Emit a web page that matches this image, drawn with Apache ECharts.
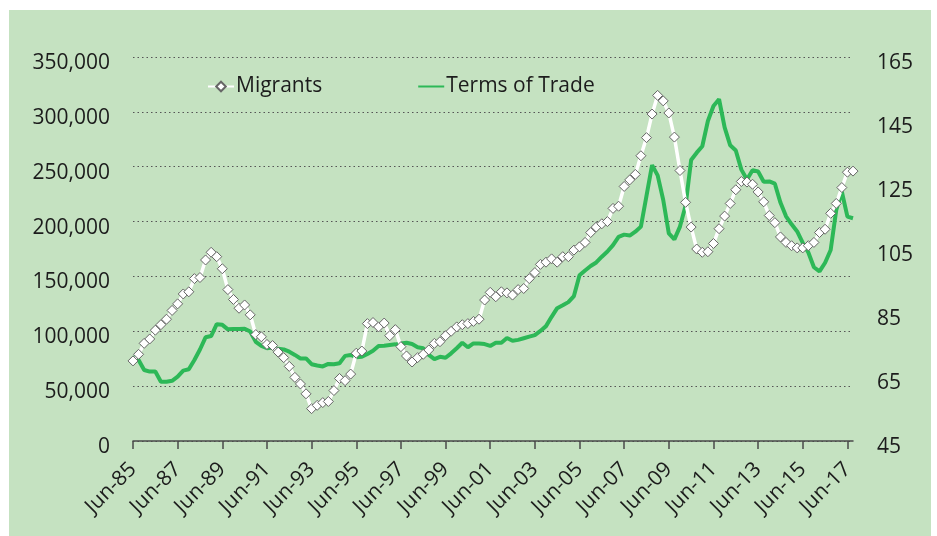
<!DOCTYPE html>
<html>
<head>
<meta charset="utf-8">
<script src="https://cdn.jsdelivr.net/npm/echarts@6/dist/echarts.min.js"></script>
<style>
  html, body { margin: 0; padding: 0; background: #ffffff; }
  #chart { position: absolute; left: 9px; top: 10px; width: 922px; height: 526px; }
</style>
</head>
<body>
<div id="chart"></div>
<script>
// quarterly, Jun-85 .. Sep-17
var quarterMonths = ['Jun', 'Sep', 'Dec', 'Mar'];
var categories = [];
for (var q = 0; q < 130; q++) {
    var yr = 1985 + Math.floor((q + 1) / 4);
    categories.push(quarterMonths[q % 4] + '-' + String(yr).slice(2));
}

// migrants (left axis)
var migrants = [
    73000, 79000, 89000, 93000, 101000, 106000, 111000, 119000, 125000, 134000,
    136000, 148000, 149000, 165000, 172000, 168000, 157000, 138000, 129000, 121000,
    124000, 115000, 97000, 95000, 88000, 87000, 81000, 76000, 68000, 58000,
    52000, 43000, 29500, 32500, 35000, 36000, 46000, 57000, 55000, 61000,
    80000, 82000, 107000, 108000, 104000, 107500, 96000, 101500, 86000, 77500,
    72000, 76000, 79000, 83000, 89000, 90500, 96000, 100000, 104000, 106000,
    107000, 109000, 111000, 128500, 135500, 131500, 136000, 135000, 133000, 138000,
    139000, 148000, 153500, 161000, 163000, 166000, 163000, 168000, 168000, 174000,
    177000, 181000, 190000, 195000, 198000, 200000, 212000, 214000, 232000, 238000,
    243000, 260000, 276500, 298000, 315000, 310000, 299000, 277000, 246500, 217500,
    195000, 175000, 172000, 172500, 180000, 193500, 205000, 216500, 229000, 236500,
    236000, 234000, 227000, 218000, 205500, 199000, 186000, 181000, 178000, 176000,
    176000, 178000, 181000, 190000, 193000, 207500, 216500, 231000, 245000, 246000
];

// terms of trade (right axis)
var termsOfTrade = [
    71.3, 70.3, 67.2, 66.7, 66.7, 63.5, 63.5, 63.8, 65.1, 67.0,
    67.4, 70.3, 73.6, 77.4, 77.8, 81.5, 81.3, 79.9, 80.0, 80.0,
    80.1, 79.2, 76.0, 74.7, 74.0, 74.2, 73.8, 73.6, 72.9, 71.9,
    70.8, 70.8, 69.0, 68.6, 68.3, 69.1, 69.0, 69.3, 71.6, 71.9,
    71.2, 71.3, 72.2, 73.2, 74.7, 74.8, 75.0, 75.2, 75.5, 75.7,
    75.3, 74.3, 74.0, 71.9, 70.6, 71.3, 71.0, 72.4, 74.0, 75.7,
    74.3, 75.5, 75.5, 75.3, 74.7, 75.7, 75.7, 77.2, 76.3, 76.6,
    77.1, 77.6, 78.1, 79.4, 80.9, 83.8, 86.5, 87.4, 88.4, 90.3,
    96.8, 98.3, 99.7, 100.8, 102.6, 104.2, 106.2, 108.8, 109.5, 109.2,
    110.4, 112.0, 121.6, 131.2, 128.0, 120.3, 109.9, 108.0, 112.0, 118.5,
    132.8, 135.1, 137.1, 145.0, 149.7, 151.8, 143.0, 137.4, 135.8, 129.8,
    126.7, 129.6, 129.2, 126.0, 126.1, 125.4, 119.5, 115.2, 112.7, 110.5,
    106.9, 103.9, 99.3, 98.0, 100.7, 104.7, 117.2, 122.9, 115.1, 114.6
];

var rightTicks = [45, 65, 85, 105, 125, 145, 165];

var FONT = '"Open Sans", "Noto Sans", sans-serif';
var TEXT_COLOR = '#1c1c1c';

// y labels sit a little below their grid lines
var lowLabel = { padding: [12, 0, 0, 0], fontSize: 21, color: TEXT_COLOR, fontFamily: FONT };

var chart = echarts.init(document.getElementById('chart'));

chart.setOption({
    backgroundColor: '#c5e2c1',
    animation: false,
    textStyle: { fontFamily: FONT },
    grid: { left: 124, right: 78, top: 47, bottom: 95 },
    legend: {
        left: 193,
        top: 61,
        itemWidth: 26,
        itemHeight: 12,
        itemGap: 95,
        textStyle: { fontSize: 21, color: TEXT_COLOR, fontFamily: FONT, padding: [0, 0, 0, -3] },
        data: [
            'Migrants',
            { name: 'Terms of Trade', itemStyle: { opacity: 0 } }
        ]
    },
    xAxis: {
        type: 'category',
        data: categories,
        boundaryGap: false,
        axisLine: { lineStyle: { color: '#4a4a4a', width: 1.5 } },
        axisTick: { interval: 7, length: 8, lineStyle: { color: '#4a4a4a', width: 1.5 } },
        axisLabel: {
            interval: 7,
            rotate: 45,
            margin: 25,
            fontSize: 21,
            color: TEXT_COLOR,
            fontFamily: FONT
        },
        splitLine: { show: false }
    },
    yAxis: [
        {
            type: 'value',
            min: 0,
            max: 350000,
            interval: 50000,
            axisLine: { show: false },
            axisTick: { show: false },
            axisLabel: {
                margin: 23,
                formatter: function (v) { return '{a|' + v.toLocaleString('en-US') + '}'; },
                rich: { a: lowLabel }
            },
            splitLine: { lineStyle: { color: '#555555', type: [1.5, 3], width: 1 } }
        },
        {
            type: 'value',
            min: 45,
            max: 165,
            position: 'right',
            axisLine: { show: false },
            axisTick: { show: false, customValues: rightTicks },
            axisLabel: {
                customValues: rightTicks,
                margin: 24,
                formatter: function (v) { return '{a|' + v + '}'; },
                rich: { a: lowLabel }
            },
            splitLine: { show: false }
        }
    ],
    series: [
        {
            name: 'Terms of Trade',
            type: 'line',
            yAxisIndex: 1,
            data: termsOfTrade,
            symbol: 'none',
            z: 2,
            lineStyle: { color: '#2db857', width: 4 },
            itemStyle: { color: '#2db857' }
        },
        {
            name: 'Migrants',
            type: 'line',
            yAxisIndex: 0,
            data: migrants,
            symbol: 'diamond',
            symbolSize: 10,
            showAllSymbol: true,
            z: 3,
            lineStyle: { color: '#ffffff', width: 3.5 },
            itemStyle: { color: '#ffffff', borderColor: '#666666', borderWidth: 1 }
        }
    ]
});
</script>
</body>
</html>
